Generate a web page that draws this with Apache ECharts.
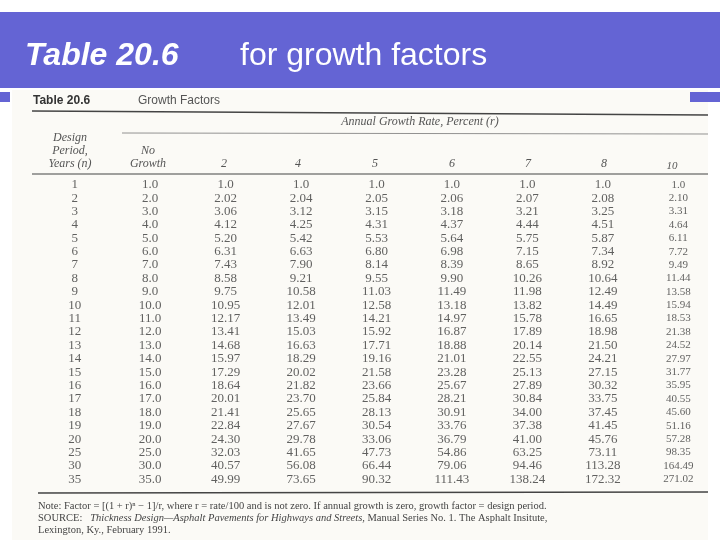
<!DOCTYPE html>
<html>
<head>
<meta charset="utf-8">
<script src="https://cdn.jsdelivr.net/npm/echarts@6/dist/echarts.min.js"></script>
<style>
  html, body { margin: 0; padding: 0; background: #fff; }
  #chart { width: 720px; height: 540px; }
</style>
</head>
<body>
<div id="chart"></div>
<script>
// table data
const columns = ['n', 'No Growth', '2', '4', '5', '6', '7', '8', '10'];
const years = ['1', '2', '3', '4', '5', '6', '7', '8', '9', '10', '11', '12', '13', '14', '15', '16', '17', '18', '19', '20', '25', '30', '35'];
const noGrowth = ['1.0', '2.0', '3.0', '4.0', '5.0', '6.0', '7.0', '8.0', '9.0', '10.0', '11.0', '12.0', '13.0', '14.0', '15.0', '16.0', '17.0', '18.0', '19.0', '20.0', '25.0', '30.0', '35.0'];
const rate2 = ['1.0', '2.02', '3.06', '4.12', '5.20', '6.31', '7.43', '8.58', '9.75', '10.95', '12.17', '13.41', '14.68', '15.97', '17.29', '18.64', '20.01', '21.41', '22.84', '24.30', '32.03', '40.57', '49.99'];
const rate4 = ['1.0', '2.04', '3.12', '4.25', '5.42', '6.63', '7.90', '9.21', '10.58', '12.01', '13.49', '15.03', '16.63', '18.29', '20.02', '21.82', '23.70', '25.65', '27.67', '29.78', '41.65', '56.08', '73.65'];
const rate5 = ['1.0', '2.05', '3.15', '4.31', '5.53', '6.80', '8.14', '9.55', '11.03', '12.58', '14.21', '15.92', '17.71', '19.16', '21.58', '23.66', '25.84', '28.13', '30.54', '33.06', '47.73', '66.44', '90.32'];
const rate6 = ['1.0', '2.06', '3.18', '4.37', '5.64', '6.98', '8.39', '9.90', '11.49', '13.18', '14.97', '16.87', '18.88', '21.01', '23.28', '25.67', '28.21', '30.91', '33.76', '36.79', '54.86', '79.06', '111.43'];
const rate7 = ['1.0', '2.07', '3.21', '4.44', '5.75', '7.15', '8.65', '10.26', '11.98', '13.82', '15.78', '17.89', '20.14', '22.55', '25.13', '27.89', '30.84', '34.00', '37.38', '41.00', '63.25', '94.46', '138.24'];
const rate8 = ['1.0', '2.08', '3.25', '4.51', '5.87', '7.34', '8.92', '10.64', '12.49', '14.49', '16.65', '18.98', '21.50', '24.21', '27.15', '30.32', '33.75', '37.45', '41.45', '45.76', '73.11', '113.28', '172.32'];
const rate10 = ['1.0', '2.10', '3.31', '4.64', '6.11', '7.72', '9.49', '11.44', '13.58', '15.94', '18.53', '21.38', '24.52', '27.97', '31.77', '35.95', '40.55', '45.60', '51.16', '57.28', '98.35', '164.49', '271.02'];

const colData = [years, noGrowth, rate2, rate4, rate5, rate6, rate7, rate8, rate10];
const serif = 'Liberation Serif';
const ink = '#3a3a3a';

const chart = echarts.init(document.getElementById('chart'));

const series = colData.map((vals, ci) => ({
    type: 'scatter',
    symbolSize: 0,
    silent: true,
    data: vals.map((v, ri) => ({ value: [columns[ci], ri], label: { formatter: v } })),
    label: {
        show: true,
        position: 'inside',
        fontFamily: serif,
        fontSize: ci === 8 ? 11 : 13,
        color: ink
    }
}));

const headerText = (x, y, text, opts) => ({
    type: 'text', x: x, y: y,
    style: Object.assign({ text: text, fontFamily: serif, fontSize: 12, fontStyle: 'italic', fill: '#555', align: 'center' }, opts || {})
});

chart.setOption({
    backgroundColor: '#fff',
    animation: false,
    grid: { left: 37, width: 679, top: 178, height: 308 },
    xAxis: { type: 'category', data: columns, show: false },
    yAxis: { type: 'category', data: years.map((y, i) => i), inverse: true, show: false },
    series: series,
    graphic: [
        { type: 'rect', shape: { x: 0, y: 12, width: 720, height: 76 }, style: { fill: '#6464d4' } },
        { type: 'rect', shape: { x: 12, y: 90, width: 696, height: 450 }, style: { fill: '#fbfaf6' } },
        { type: 'rect', shape: { x: 0, y: 92, width: 10, height: 10 }, style: { fill: '#6464d4' } },
        { type: 'rect', shape: { x: 690, y: 92, width: 30, height: 10 }, style: { fill: '#6464d4' } },
        { type: 'text', x: 25, y: 40, style: { text: 'Table 20.6', fontFamily: 'Liberation Sans', fontSize: 32, fontWeight: 'bold', fontStyle: 'italic', fill: '#fff' } },
        { type: 'text', x: 240, y: 40, style: { text: 'for growth factors', fontFamily: 'Liberation Sans', fontSize: 32, fill: '#fff' } },
        { type: 'text', x: 33, y: 95, style: { text: 'Table 20.6', fontFamily: 'Liberation Sans', fontSize: 12, fontWeight: 'bold', fill: '#333' } },
        { type: 'text', x: 138, y: 95, style: { text: 'Growth Factors', fontFamily: 'Liberation Sans', fontSize: 12, fill: '#555' } },
        { type: 'line', shape: { x1: 32, y1: 111, x2: 708, y2: 115 }, style: { stroke: '#444', lineWidth: 1.5 } },
        headerText(420, 116, 'Annual Growth Rate, Percent (r)', { fontSize: 12 }),
        { type: 'line', shape: { x1: 122, y1: 133, x2: 708, y2: 134 }, style: { stroke: '#777', lineWidth: 0.8 } },
        headerText(70, 132, 'Design'),
        headerText(70, 145, 'Period,'),
        headerText(70, 158, 'Years (n)'),
        headerText(148, 145, 'No'),
        headerText(148, 158, 'Growth'),
        headerText(224, 158, '2'), headerText(298, 158, '4'), headerText(375, 158, '5'),
        headerText(452, 158, '6'), headerText(528, 158, '7'), headerText(604, 158, '8'),
        headerText(672, 161, '10', { fontSize: 11 }),
        { type: 'line', shape: { x1: 32, y1: 174, x2: 708, y2: 174 }, style: { stroke: '#444', lineWidth: 1.2 } },
        { type: 'line', shape: { x1: 38, y1: 493, x2: 708, y2: 492 }, style: { stroke: '#444', lineWidth: 1.5 } },
        { type: 'text', x: 38, y: 501, style: { text: 'Note: Factor = [(1 + r)ⁿ − 1]/r, where r = rate/100 and is not zero. If annual growth is zero, growth factor = design period.', fontFamily: serif, fontSize: 10.5, fill: '#444' } },
        { type: 'text', x: 38, y: 513, style: { rich: { a: { fontFamily: serif, fontSize: 10.5, fill: '#444' }, b: { fontFamily: serif, fontSize: 10.5, fontStyle: 'italic', fill: '#444' } }, text: '{a|SOURCE:   }{b|Thickness Design—Asphalt Pavements for Highways and Streets,}{a| Manual Series No. 1. The Asphalt Insitute,}' } },
        { type: 'text', x: 38, y: 525, style: { text: 'Lexington, Ky., February 1991.', fontFamily: serif, fontSize: 10.5, fill: '#444' } }
    ]
});
</script>
</body>
</html>
